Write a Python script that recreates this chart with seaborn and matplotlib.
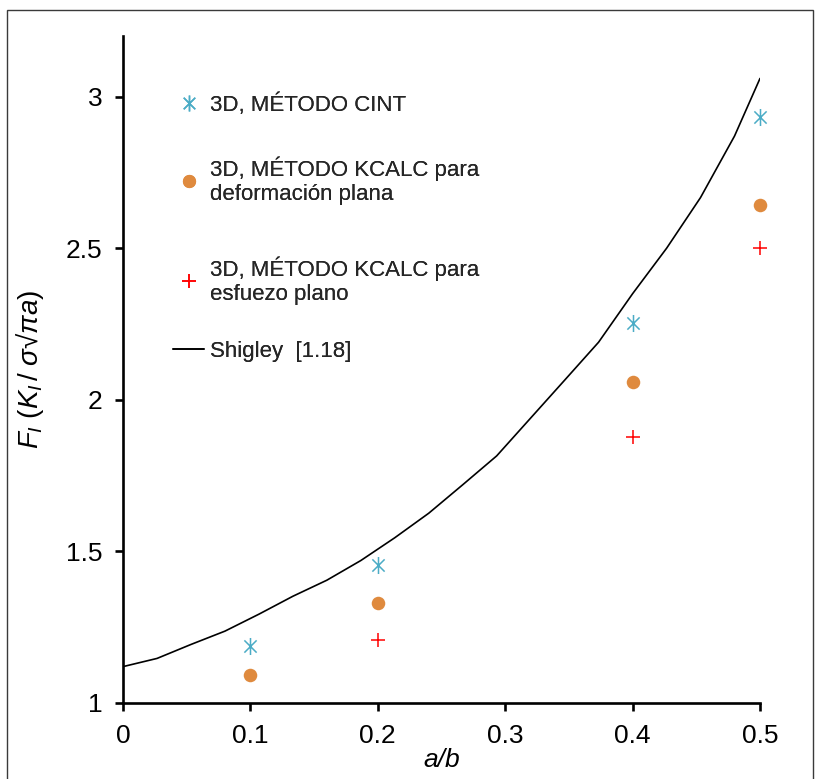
import matplotlib
matplotlib.use("Agg")
import matplotlib.pyplot as plt
from matplotlib.patches import Rectangle
from matplotlib.lines import Line2D
from matplotlib.path import Path
import seaborn as sns
import pandas as pd

# Shigley reference curve (finite-width plate, central crack)
shigley_ab = [0.0, 0.0267, 0.0533, 0.08, 0.1067, 0.1333, 0.16, 0.1867, 0.2133,
              0.24, 0.2667, 0.2933, 0.32, 0.3467, 0.3733, 0.40, 0.4267, 0.4533,
              0.48, 0.50]
shigley_f = [1.12, 1.147, 1.193, 1.237, 1.293, 1.352, 1.405, 1.470, 1.545,
             1.626, 1.72, 1.815, 1.94, 2.065, 2.19, 2.35, 2.50, 2.667,
             2.87, 3.06]

# 3D results
cint_ab = [0.1, 0.2, 0.4, 0.5]
cint_f = [1.188, 1.455, 2.255, 2.934]

kcalc_strain_ab = [0.1, 0.2, 0.4, 0.5]
kcalc_strain_f = [1.092, 1.329, 2.058, 2.644]

kcalc_stress_ab = [0.2, 0.4, 0.5]
kcalc_stress_f = [1.208, 1.876, 2.502]

x_ticks = [0, 0.1, 0.2, 0.3, 0.4, 0.5]
x_ticklabels = ["0", "0.1", "0.2", "0.3", "0.4", "0.5"]
y_ticks = [1, 1.5, 2, 2.5, 3]
y_ticklabels = ["1", "1.5", "2", "2.5", "3"]

labels = [
    "3D, MÉTODO CINT",
    "3D, MÉTODO KCALC para\ndeformación plana",
    "3D, MÉTODO KCALC para\nesfuezo plano",
    "Shigley  [1.18]",
]

c_cint = "#4BACC6"
c_strain = "#DF8A3E"
c_stress = "#FF0000"

# asterisk: vertical stroke plus an X
d = 0.72
star = Path([(0, -1), (0, 1), (-d, -d), (d, d), (-d, d), (d, -d)],
            [Path.MOVETO, Path.LINETO, Path.MOVETO, Path.LINETO,
             Path.MOVETO, Path.LINETO])

sns.set_theme(style="ticks")
plt.rcParams["font.family"] = ["Liberation Sans", "DejaVu Sans"]
plt.rcParams["mathtext.fontset"] = "custom"
plt.rcParams["mathtext.it"] = "Liberation Sans:italic"
plt.rcParams["mathtext.rm"] = "Liberation Sans"

W, H = 817, 779
fig = plt.figure(figsize=(W / 100, H / 100), dpi=100)
ax = fig.add_axes([123 / W, 1 - 703 / H, (760 - 123) / W, (703 - 36) / H])

# outer frame
fig.patches.append(Rectangle((7 / W, -0.05), (813 - 7) / W, 1.05 - 10 / H,
                             transform=fig.transFigure, fill=False,
                             edgecolor="#3a3a3a", linewidth=1.0))

df_line = pd.DataFrame({"ab": shigley_ab, "f": shigley_f})
sns.lineplot(data=df_line, x="ab", y="f", ax=ax, color="black", linewidth=1.2,
             sort=False, estimator=None)

sns.scatterplot(x=cint_ab, y=cint_f, ax=ax, marker=star, s=150,
                color=c_cint, edgecolor=c_cint, linewidth=1.1, clip_on=False,
                zorder=4)
sns.scatterplot(x=kcalc_strain_ab, y=kcalc_strain_f, ax=ax, marker="o", s=95,
                color=c_strain, edgecolor=c_strain, linewidth=0, clip_on=False,
                zorder=4)
sns.scatterplot(x=kcalc_stress_ab, y=kcalc_stress_f, ax=ax, marker="+", s=110,
                color=c_stress, linewidth=1.1, clip_on=False, zorder=4)

ax.set_xlim(0, 0.5)
ax.set_ylim(1, 3.2)
ax.set_xticks(x_ticks)
ax.set_xticklabels(x_ticklabels)
ax.set_yticks(y_ticks)
ax.set_yticklabels(y_ticklabels)

for side in ("top", "right"):
    ax.spines[side].set_visible(False)
for side in ("left", "bottom"):
    ax.spines[side].set_linewidth(1.9)
    ax.spines[side].set_color("black")
ax.tick_params(axis="both", direction="out", length=6, width=1.9,
               color="black", labelsize=19, labelcolor="black", pad=9)

ax.set_xlabel("a/b", fontsize=19, fontstyle="italic", labelpad=0,
              color="black")
ax.set_ylabel("$F_I\\ (K_I\\,/\\ \\sigma$√$\\pi a)$", fontsize=20,
              labelpad=14, color="black")

# legend entries placed one by one
handles = [
    Line2D([], [], linestyle="none", marker=star, markersize=11.5,
           markeredgewidth=1.1, color=c_cint),
    Line2D([], [], linestyle="none", marker="o", markersize=9.5,
           markeredgewidth=0, color=c_strain),
    Line2D([], [], linestyle="none", marker="+", markersize=10,
           markeredgewidth=1.1, color=c_stress),
    Line2D([], [], color="black", linewidth=1.2),
]
centers_px = [105, 181, 281, 351]
for h, lab, cy in zip(handles, labels, centers_px):
    leg = fig.legend([h], [lab], loc="center left",
                     bbox_to_anchor=(173 / W, 1 - cy / H),
                     bbox_transform=fig.transFigure, frameon=False,
                     fontsize=16, handlelength=1.4, handletextpad=0.25,
                     borderpad=0, borderaxespad=0, labelspacing=0.2)
    fig.add_artist(leg)

fig.savefig("out.png", dpi=100, facecolor="white")
